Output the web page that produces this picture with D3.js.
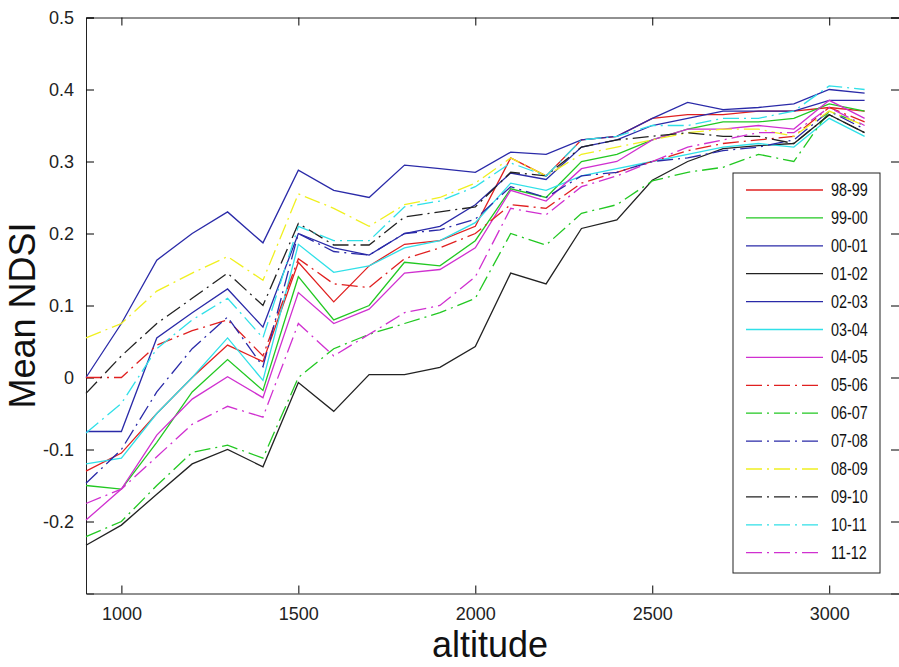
<!DOCTYPE html>
<html>
<head>
<meta charset="utf-8">
<script src="https://cdn.jsdelivr.net/npm/d3@7"></script>
<style>
  body { margin: 0; background: #fff; }
  text { font-family: "Liberation Sans", Arial, sans-serif; }
</style>
</head>
<body>
<div id="chart"></div>
<script>
// altitude steps (m)
const altitudes = d3.range(900, 3101, 100);

const seasons = ["98-99", "99-00", "00-01", "01-02", "02-03", "03-04", "04-05",
  "05-06", "06-07", "07-08", "08-09", "09-10", "10-11", "11-12"];

// mean NDSI per season
const s9899 = [-0.13, -0.105, -0.05, 0.0, 0.045, 0.022, 0.16, 0.105, 0.155, 0.185, 0.19, 0.21, 0.305, 0.28, 0.33, 0.335, 0.36, 0.365, 0.365, 0.37, 0.37, 0.375, 0.37];
const s9900 = [-0.15, -0.155, -0.09, -0.02, 0.025, -0.018, 0.14, 0.08, 0.1, 0.16, 0.155, 0.19, 0.262, 0.25, 0.3, 0.31, 0.33, 0.345, 0.355, 0.355, 0.36, 0.38, 0.37];
const s0001 = [0.0, 0.075, 0.163, 0.2, 0.23, 0.187, 0.288, 0.26, 0.25, 0.295, 0.29, 0.285, 0.313, 0.31, 0.33, 0.335, 0.36, 0.382, 0.372, 0.375, 0.38, 0.4, 0.395];
const s0102 = [-0.233, -0.205, -0.162, -0.12, -0.1, -0.124, -0.007, -0.047, 0.004, 0.004, 0.014, 0.043, 0.145, 0.13, 0.207, 0.219, 0.274, 0.3, 0.318, 0.322, 0.325, 0.365, 0.34];
const s0203 = [-0.075, -0.075, 0.055, 0.09, 0.123, 0.07, 0.2, 0.18, 0.17, 0.2, 0.21, 0.24, 0.284, 0.275, 0.32, 0.33, 0.35, 0.36, 0.37, 0.37, 0.37, 0.385, 0.385];
const s0304 = [-0.12, -0.112, -0.05, 0.0, 0.055, -0.004, 0.185, 0.146, 0.155, 0.18, 0.19, 0.215, 0.27, 0.26, 0.28, 0.29, 0.3, 0.31, 0.32, 0.325, 0.32, 0.36, 0.335];
const s0405 = [-0.198, -0.155, -0.08, -0.03, 0.001, -0.028, 0.118, 0.075, 0.095, 0.145, 0.15, 0.18, 0.26, 0.245, 0.29, 0.3, 0.33, 0.345, 0.345, 0.35, 0.345, 0.385, 0.36];
const s0506 = [0.0, 0.0, 0.045, 0.065, 0.08, 0.03, 0.165, 0.13, 0.125, 0.165, 0.18, 0.2, 0.24, 0.235, 0.27, 0.285, 0.3, 0.315, 0.325, 0.33, 0.335, 0.375, 0.355];
const s0607 = [-0.221, -0.2, -0.15, -0.104, -0.094, -0.112, 0.0, 0.04, 0.06, 0.075, 0.09, 0.11, 0.2, 0.184, 0.228, 0.24, 0.273, 0.285, 0.292, 0.31, 0.3, 0.37, 0.35];
const s0708 = [-0.147, -0.1, -0.02, 0.04, 0.084, 0.015, 0.2, 0.175, 0.17, 0.2, 0.205, 0.22, 0.265, 0.25, 0.28, 0.285, 0.3, 0.305, 0.315, 0.32, 0.33, 0.37, 0.345];
const s0809 = [0.055, 0.075, 0.12, 0.145, 0.168, 0.135, 0.255, 0.235, 0.21, 0.24, 0.25, 0.27, 0.305, 0.28, 0.31, 0.32, 0.33, 0.34, 0.345, 0.345, 0.335, 0.37, 0.35];
const s0910 = [-0.022, 0.03, 0.075, 0.11, 0.145, 0.1, 0.214, 0.184, 0.184, 0.223, 0.23, 0.237, 0.285, 0.28, 0.32, 0.33, 0.335, 0.34, 0.335, 0.335, 0.325, 0.365, 0.34];
const s1011 = [-0.077, -0.036, 0.04, 0.08, 0.11, 0.055, 0.21, 0.19, 0.19, 0.237, 0.245, 0.265, 0.298, 0.28, 0.33, 0.335, 0.35, 0.35, 0.36, 0.36, 0.37, 0.405, 0.4];
const s1112 = [-0.175, -0.155, -0.11, -0.065, -0.04, -0.055, 0.075, 0.03, 0.06, 0.09, 0.1, 0.14, 0.235, 0.226, 0.265, 0.28, 0.3, 0.32, 0.33, 0.34, 0.34, 0.375, 0.35];

const seriesValues = [s9899, s9900, s0001, s0102, s0203, s0304, s0405,
  s0506, s0607, s0708, s0809, s0910, s1011, s1112];

const xTicks = [1000, 1500, 2000, 2500, 3000];
const yTicks = [-0.2, -0.1, 0, 0.1, 0.2, 0.3, 0.4, 0.5];

// MATLAB-ish colours as they look in the picture
const colors = ["#e02020", "#22c822", "#2a2aa8", "#222222", "#2a2aa8", "#30e0e8", "#d030d0",
  "#e02020", "#22c822", "#2a2aa8", "#f0f020", "#222222", "#30e0e8", "#d030d0"];
const dashed = seasons.map((d, i) => i >= 7);

const width = 899, height = 667;
const margin = { top: 17, right: 0, bottom: 73, left: 86 };

const svg = d3.select("#chart").append("svg")
  .attr("width", width)
  .attr("height", height);

const x = d3.scaleLinear().domain([900, 3200]).range([margin.left, 900]);
const y = d3.scaleLinear().domain([-0.3, 0.5]).range([height - margin.bottom - 0.5, margin.top + 0.5]);

// MATLAB prints a plain hyphen for negatives
const fmt = d => (d === 0 ? "0" : d3.format(".1f")(d).replace("\u2212", "-"));

// axes box with inward ticks (MATLAB look)
const tickLen = 8;
svg.append("g")
  .attr("transform", `translate(0,${y(-0.3)})`)
  .call(d3.axisBottom(x).tickValues(xTicks).tickSize(-tickLen).tickPadding(14).tickFormat(d3.format("d")))
  .call(g => g.select(".domain").attr("stroke", "#222"))
  .call(g => g.selectAll("text").attr("font-size", 18).attr("fill", "#222"));

svg.append("g")
  .attr("transform", `translate(0,${y(0.5)})`)
  .call(d3.axisTop(x).tickValues(xTicks).tickSize(-tickLen).tickFormat(""))
  .call(g => g.select(".domain").attr("stroke", "#222"));

svg.append("g")
  .attr("transform", `translate(${x(900)},0)`)
  .call(d3.axisLeft(y).tickValues(yTicks).tickSize(-tickLen).tickPadding(12).tickFormat(fmt))
  .call(g => g.select(".domain").attr("stroke", "#222"))
  .call(g => g.selectAll("text").attr("font-size", 18).attr("fill", "#222"));

svg.append("g")
  .attr("transform", `translate(${x(3200) - 1},0)`)
  .call(d3.axisRight(y).tickValues(yTicks).tickSize(-tickLen).tickFormat(""))
  .call(g => g.select(".domain").attr("stroke", "#222"));

// lines
const line = d3.line()
  .x((d, i) => x(altitudes[i]))
  .y(d => y(d));

svg.append("g")
  .selectAll("path.series")
  .data(seriesValues)
  .join("path")
  .attr("class", "series")
  .attr("d", line)
  .attr("fill", "none")
  .attr("stroke", (d, i) => colors[i])
  .attr("stroke-width", 1.3)
  .attr("stroke-dasharray", (d, i) => (dashed[i] ? "16,5,2,5" : null));

// axis titles
svg.append("text")
  .attr("x", (x(900) + x(3200)) / 2 - 3)
  .attr("y", 657)
  .attr("text-anchor", "middle")
  .attr("font-size", 36)
  .attr("fill", "#111")
  .text("altitude");

svg.append("text")
  .attr("transform", `translate(35,${(y(0.5) + y(-0.3)) / 2 + 10}) rotate(-90)`)
  .attr("text-anchor", "middle")
  .attr("font-size", 36)
  .attr("fill", "#111")
  .text("Mean NDSI");

// legend
const legend = svg.append("g").attr("transform", "translate(733,173)");
legend.append("rect")
  .attr("width", 147)
  .attr("height", 400)
  .attr("fill", "#fff")
  .attr("stroke", "#222");

const item = legend.selectAll("g.item")
  .data(seasons)
  .join("g")
  .attr("class", "item")
  .attr("transform", (d, i) => `translate(0,${17 + i * 27.9})`);

item.append("line")
  .attr("x1", 13).attr("x2", 90)
  .attr("stroke", (d, i) => colors[i])
  .attr("stroke-width", 1.3)
  .attr("stroke-dasharray", (d, i) => (dashed[i] ? "16,5,2,5" : null));

// the legend font in the picture is a narrow one
item.append("text")
  .attr("transform", "translate(98,6) scale(0.8,1)")
  .attr("font-size", 18)
  .attr("fill", "#111")
  .text(d => d);
</script>
</body>
</html>
